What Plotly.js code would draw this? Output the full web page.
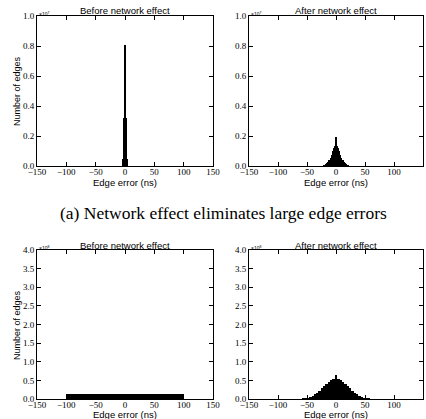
<!DOCTYPE html>
<html><head><meta charset="utf-8">
<script src="https://cdn.plot.ly/plotly-3.0.1.min.js"></script>
<style>html,body{margin:0;padding:0;background:#fff}#plot{width:426px;height:419px}</style>
</head><body><div id="plot"></div>
<script>
// ---- data (counts in units of the axis multiplier) ----
var topBeforeX = [-100,-4,-2,0,2,4,100];
var topBeforeY = [0.02,0.05,0.32,0.81,0.32,0.05,0.02];

var topAfterX = [-26,-24,-22,-20,-18,-16,-14,-12,-10,-8,-6,-4,-2,0,2,4,6,8,10,12,14,16,18,20,22,24,26];
var topAfterY = [0.001,0.002,0.004,0.007,0.012,0.019,0.028,0.040,0.055,0.075,0.098,0.118,0.135,0.195,0.135,0.118,0.098,0.075,0.055,0.040,0.028,0.019,0.012,0.007,0.004,0.002,0.001];

var bottomBeforeX = [-95,-85,-75,-65,-55,-45,-35,-25,-15,-5,5,15,25,35,45,55,65,75,85,95];
var bottomBeforeY = [0.13,0.13,0.13,0.13,0.13,0.13,0.13,0.13,0.13,0.13,0.13,0.13,0.13,0.13,0.13,0.13,0.13,0.13,0.13,0.13];

var bottomAfterX = [-80,-76,-72,-68,-64,-60,-56,-52,-48,-44,-40,-36,-32,-28,-24,-20,-16,-12,-8,-4,0,4,8,12,16,20,24,28,32,36,40,44,48,52,56,60,64,68,72,76,80];
var bottomAfterY = [0.002,0.003,0.004,0.005,0.007,0.010,0.016,0.026,0.040,0.061,0.090,0.127,0.172,0.226,0.286,0.349,0.411,0.467,0.511,0.540,0.550,0.540,0.511,0.467,0.411,0.349,0.286,0.226,0.172,0.127,0.090,0.061,0.040,0.026,0.016,0.010,0.007,0.005,0.004,0.003,0.002];
var bottomSpikeX = [0];
var bottomSpikeY = [0.64];

var xTicks = [-150,-100,-50,0,50,100,150];
var topYTicks = [0,0.2,0.4,0.6,0.8,1.0];
var bottomYTicks = [0,0.5,1.0,1.5,2.0,2.5,3.0,3.5,4.0];
var subTitles = ["Before network effect","After network effect","Before network effect","After network effect"];
var xTitle = "Edge error (ns)";
var yTitle = "Number of edges";
var caption = "(a) Network effect eliminates large edge errors";
var topMult = "×10<sup>7</sup>";
var bottomMult = "×10<sup>8</sup>";

// ---- layout helpers ----
var W = 426, H = 419;
function px(x){ return x / W; }
function py(y){ return 1 - y / H; }
var colL = [37, 213], colR = [249, 423];
var rowT = [16, 166], rowB = [250, 399];

function bar(x, y, w, xa, ya){
  return {type:'bar', x:x, y:y, width:w, xaxis:xa, yaxis:ya,
    marker:{color:'#000', line:{width:0}}, hoverinfo:'skip', showlegend:false};
}
var traces = [
  bar(topBeforeX, topBeforeY, 2.4, 'x', 'y'),
  bar(topAfterX, topAfterY, 2.3, 'x2', 'y2'),
  bar(bottomBeforeX, bottomBeforeY, 10.2, 'x3', 'y3'),
  bar(bottomAfterX, bottomAfterY, 4.5, 'x4', 'y4'),
  bar(bottomSpikeX, bottomSpikeY, 2, 'x4', 'y4')
];

var tickFont = {family:'Liberation Serif', size:9, color:'#000'};
function xax(dom, anchor){
  return {domain:[px(dom[0]), px(dom[1])], anchor:anchor, range:[-150,150],
    tickmode:'array', tickvals:xTicks, ticks:'inside', ticklen:4, tickwidth:1, tickcolor:'#000',
    showline:true, linecolor:'#000', linewidth:1, mirror:'allticks', showgrid:false, zeroline:false,
    tickfont:tickFont, ticklabelstandoff:-3, automargin:false, fixedrange:true};
}
function yax(dom, anchor, ticks, rng){
  return {domain:[py(dom[1]), py(dom[0])], anchor:anchor, range:rng,
    tickmode:'array', tickvals:ticks, tickformat:'.1f', ticks:'inside', ticklen:4, tickwidth:1, tickcolor:'#000',
    showline:true, linecolor:'#000', linewidth:1, mirror:'allticks', showgrid:false, zeroline:false,
    tickfont:tickFont, automargin:false, fixedrange:true};
}

var sans = 'Liberation Sans';
function ann(text, x, y, size, opts){
  var a = {text:text, xref:'paper', yref:'paper', x:px(x), y:py(y), showarrow:false,
    font:{family:sans, size:size, color:'#000'}, xanchor:'center', yanchor:'middle'};
  for (var k in opts) a[k] = opts[k];
  return a;
}
var annotations = [
  ann(subTitles[0], 125, 11, 9.5),
  ann(subTitles[1], 336, 11, 9.5),
  ann(subTitles[2], 125, 245, 9.5),
  ann(subTitles[3], 336, 245, 9.5),
  ann(xTitle, 125, 182, 9.5),
  ann(xTitle, 336, 182, 9.5),
  ann(xTitle, 125, 414, 9.5),
  ann(xTitle, 336, 414, 9.5),
  ann(yTitle, 17, 91, 9, {textangle:-90}),
  ann(yTitle, 17, 325, 9, {textangle:-90}),
  ann(topMult, 44, 14, 5),
  ann(topMult, 256, 14, 5),
  ann(bottomMult, 44, 248, 5),
  ann(bottomMult, 256, 248, 5),
  ann(caption, 223, 213, 17.5, {font:{family:'Liberation Serif', size:17.5, color:'#000'}})
];

var layout = {
  width:W, height:H, margin:{l:0,r:0,t:0,b:0}, paper_bgcolor:'#fff', plot_bgcolor:'#fff',
  barmode:'overlay', bargap:0, showlegend:false,
  xaxis: xax(colL, 'y'), yaxis: yax(rowT, 'x', topYTicks, [0,1]),
  xaxis2: xax(colR, 'y2'), yaxis2: yax(rowT, 'x2', topYTicks, [0,1]),
  xaxis3: xax(colL, 'y3'), yaxis3: yax(rowB, 'x3', bottomYTicks, [0,4]),
  xaxis4: xax(colR, 'y4'), yaxis4: yax(rowB, 'x4', bottomYTicks, [0,4]),
  annotations: annotations
};
Plotly.newPlot('plot', traces, layout, {staticPlot:true, displayModeBar:false});
</script></body></html>
